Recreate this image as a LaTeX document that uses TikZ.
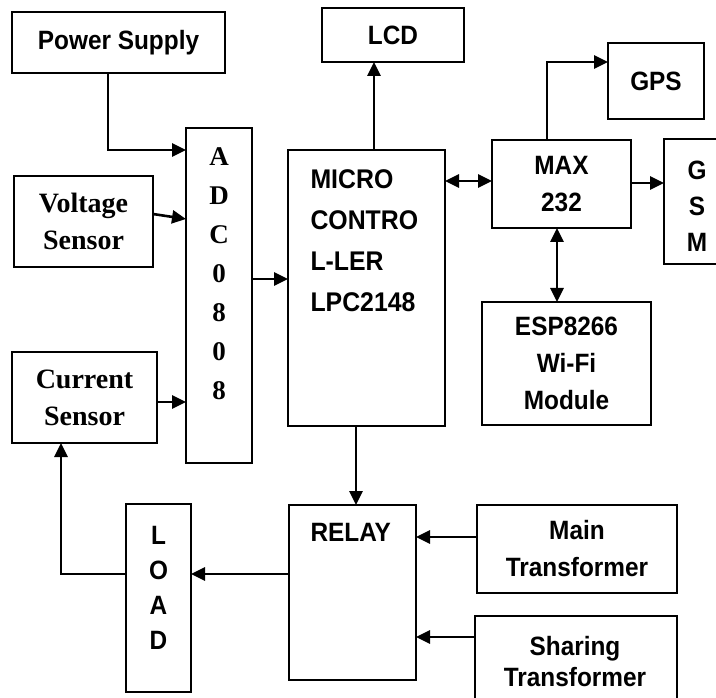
\documentclass[tikz,border=0pt]{standalone}
\usepackage{fontspec}
\newfontfamily\blocksans{Liberation Sans}[FakeStretch=0.92]
\newfontfamily\blockserif{Liberation Serif}
\usetikzlibrary{arrows.meta}
\newcommand{\blk}[7][]{
  % box from corner (#3,#4) to corner (#5,#6), in pixels
  \node[box, #1, minimum width={(#5-#3)*1pt}, minimum height={(#6-#4)*1pt}] (#2) at ({(#3+#5)/2}, {(#4+#6)/2}) {#7};
}
\tikzset{
  box/.style={draw, line width=1.7pt, inner sep=0pt, outer sep=0pt, align=center},
  sanslbl/.style={font=\blocksans\bfseries\fontsize{26.5}{37}\selectfont},
  seriflbl/.style={font=\blockserif\bfseries\fontsize{28}{37}\selectfont},
  arr/.style={line width=2.6pt, -{Triangle[length=14pt,width=13pt]}},
  darr/.style={line width=2.6pt, {Triangle[length=14pt,width=13pt]}-{Triangle[length=14pt,width=13pt]}}
}
\begin{document}
\begin{tikzpicture}[x=1pt, y=-1pt]
	\useasboundingbox (0, 0) rectangle (716, 698);
	\clip (0, 0) rectangle (716, 698);
	
	\blk[sanslbl]{ps}{12}{12}{225}{73}{Power Supply};
	\blk[seriflbl]{volt}{14}{176}{153}{267}{Voltage\\Sensor};
	\blk[seriflbl]{curr}{12}{352}{157}{443}{Current\\Sensor};
	\blk{adc}{186}{128}{252}{463}{};
	\blk{micro}{288}{150}{445}{426}{};
	\blk[sanslbl]{lcd}{322}{8}{464}{62}{LCD};
	\blk[sanslbl]{maxc}{492}{140}{631}{228}{MAX\\232};
	\blk[sanslbl]{gps}{608}{43}{704}{119}{GPS};
	\blk{gsm}{664}{139}{730}{264}{};
	\blk[sanslbl]{esp}{482}{302}{651}{425}{ESP8266\\Wi-Fi\\Module};
	\blk{relay}{289}{505}{416}{680}{};
	\blk{load}{126}{504}{191}{692}{};
	\blk[sanslbl]{mtr}{477}{505}{677}{593}{Main\\Transformer};
	\blk[sanslbl]{str}{475}{616}{677}{720}{};
	
	% texts that do not sit in the middle of their box
	\node[seriflbl, align=center, font=\blockserif\bfseries\fontsize{27}{39}\selectfont] (adctxt) at (219, 274) {A\\D\\C\\0\\8\\0\\8};
	\node[sanslbl, align=left, anchor=west, font=\blocksans\bfseries\fontsize{27}{41}\selectfont] (microtxt) at (307, 240.5) {MICRO\\CONTRO\\L-LER\\LPC2148};
	\node[sanslbl, anchor=west] (relaytxt) at (307, 532) {RELAY};
	\node[sanslbl, align=center, font=\blocksans\bfseries\fontsize{26.5}{35}\selectfont] (loadtxt) at (158.5, 588) {L\\O\\A\\D};
	\node[sanslbl, align=center, font=\blocksans\bfseries\fontsize{26.5}{36}\selectfont] (gsmtxt) at (697, 206) {G\\S\\M};
	\node[sanslbl, align=center, font=\blocksans\bfseries\fontsize{26.5}{31}\selectfont] (strtxt) at (575, 662) {Sharing\\Transformer};
	
	\draw[arr] ([xshift=-10.5pt]ps.south) |- ([yshift=-22pt]adc.north west);
	\draw[arr] ([yshift=7.5pt]volt.east) -- ([yshift=76.5pt]adc.west);
	\draw[arr] ([yshift=-4.5pt]curr.east) -- ([yshift=-106.5pt]adc.west);
	\draw[arr] ([yshift=16.5pt]adc.east) -- ([yshift=9pt]micro.west);
	\draw[arr] ([xshift=7.5pt]micro.north) -- ([xshift=-19pt]lcd.south);
	\draw[darr] ([yshift=107pt]micro.east) -- ([yshift=3pt]maxc.west);
	\draw[arr] ([xshift=-14.5pt]maxc.north) |- ([yshift=19pt]gps.west);
	\draw[arr] ([yshift=1pt]maxc.east) -- ([yshift=18.5pt]gsm.west);
	\draw[darr] ([xshift=-4.5pt]maxc.south) -- ([xshift=-9.5pt]esp.north);
	\draw[arr] ([xshift=-10.5pt]micro.south) -- ([xshift=3.5pt]relay.north);
	\draw[arr] ([yshift=12pt]mtr.west) -- ([yshift=55.5pt]relay.east);
	\draw[arr] ([yshift=31pt]str.west) -- ([yshift=-44.5pt]relay.east);
	\draw[arr] ([yshift=18.5pt]relay.west) -- ([yshift=24pt]load.east);
	\draw[arr] ([yshift=24pt]load.west) -| ([xshift=-23.5pt]curr.south);
\end{tikzpicture}
\end{document}
